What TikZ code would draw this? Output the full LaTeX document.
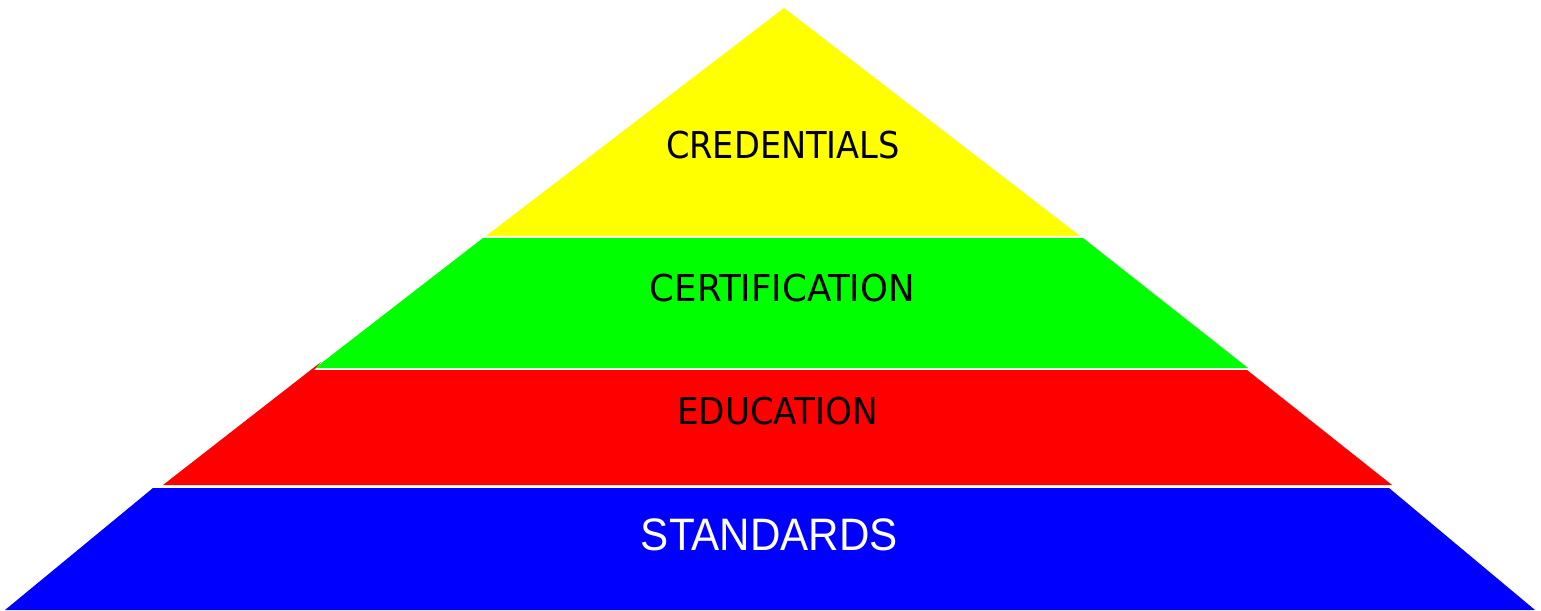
\documentclass[tikz,border=0pt]{standalone}
\usepackage{fontspec}
\usepackage{graphicx}
\newfontfamily\labfont{DejaVu Sans Condensed}
\newfontfamily\stdfont{Liberation Sans}
\definecolor{cyel}{RGB}{255,255,0}
\definecolor{cgrn}{RGB}{0,255,0}
\definecolor{cred}{RGB}{255,0,0}
\definecolor{cblu}{RGB}{0,0,255}
\begin{document}
\begin{tikzpicture}[x=1pt,y=-1pt,
  layer/.style={draw=none},
  dark/.style={text=black,font=\labfont\fontsize{37}{44}\selectfont,anchor=base,inner sep=0pt},
  light/.style={text=white,font=\stdfont\fontsize{45.5}{54}\selectfont,anchor=base,inner sep=0pt}]
\useasboundingbox (0,0) rectangle (1541,610);
% layers
\fill[cyel,layer] (784,8) -- (1080,236) -- (486,236) -- cycle;
\fill[cgrn,layer] (483,238) -- (1083,238) -- (1248,368) -- (315,368) -- cycle;
\fill[cred,layer] (163,485) -- (321,362) -- (314,370) -- (1247,370) -- (1392,485) -- cycle;
\fill[cblu,layer] (153,488) -- (1389,488) -- (1535,610) -- (5,610) -- cycle;
% labels
\node[dark] (cred) at (783,158) {\resizebox{234pt}{\height}{CREDENTIALS}};
\node[dark] (cert) at (782.5,301) {\resizebox{265pt}{\height}{CERTIFICATION}};
\node[dark] (edu) at (777.5,424.5) {\resizebox{201pt}{\height}{EDUCATION}};
\node[light] (std) at (769.5,550.5) {\resizebox{257pt}{\height}{STANDARDS}};
\end{tikzpicture}
\end{document}
